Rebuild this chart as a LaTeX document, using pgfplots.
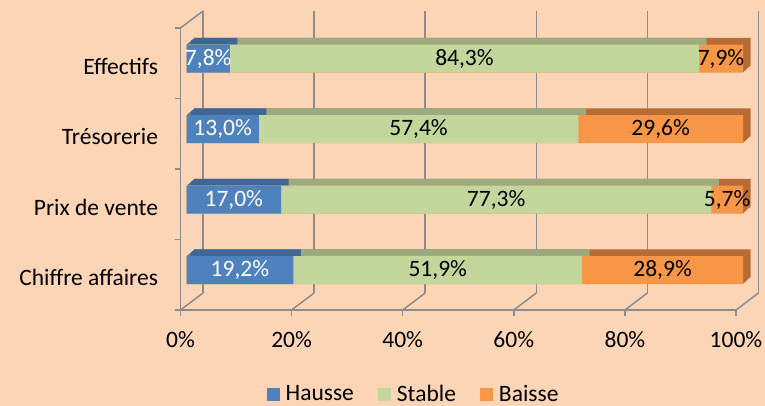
\documentclass[border=0pt]{standalone}
\usepackage{fontspec}
\setmainfont{Carlito}
\usepackage{pgfplots}
\usepackage{pgfplotstable}
\pgfplotsset{compat=1.18}
\definecolor{bg}{HTML}{FBD5B5}
\definecolor{gridgray}{RGB}{140,140,140}
\definecolor{blueC}{HTML}{4F81BD}
\definecolor{greenC}{HTML}{C3D69B}
\definecolor{orangeC}{HTML}{F79646}
\definecolor{blueD}{RGB}{62,102,150}
\definecolor{greenD}{RGB}{156,170,128}
\definecolor{orangeD}{RGB}{184,108,52}
\newcommand\cf{\fontsize{23.5bp}{28bp}\selectfont}
\pgfplotstableread{
idx h s b
0 19.2 51.9 28.9
1 17.0 77.3 5.7
2 13.0 57.4 29.6
3 7.8 84.3 7.9
}\datatable
\begin{document}
\begin{tikzpicture}
\fill[bg] (0,0) rectangle (765bp,406bp);
% back wall
\begin{axis}[at={(203bp,113bp)}, anchor=south west, scale only axis,
  width=555.5bp, height=282bp, xmin=0, xmax=100, ymin=0, ymax=1,
  axis line style={draw=none}, xtick={0,20,...,100}, ytick=\empty,
  xticklabel={\mbox{}}, major tick length=0pt, xmajorgrids,
  grid style={gridgray, line width=1.5bp}]
\end{axis}
% front plane with ticks
\begin{axis}[at={(180.5bp,96bp)}, anchor=south west, scale only axis,
  width=555.5bp, height=282bp, xmin=0, xmax=100, ymin=-0.5, ymax=3.5,
  axis x line=bottom, axis y line=left,
  axis line style={-, draw=gridgray, line width=1.5bp},
  tick style={draw=gridgray, line width=1.5bp},
  tick align=outside, major tick length=6bp,
  xtick={0,20,...,100},
  /pgf/number format/assume math mode=true,
  xticklabel={\pgfmathprintnumber{\tick}\%},
  xticklabel style={font=\cf, yshift=-12bp},
  ytick={-0.5,0.5,...,3.5}, yticklabel={\mbox{}},
  extra y ticks={0,1,2,3},
  extra y tick labels={Chiffre affaires, Prix de vente, Trésorerie, Effectifs},
  extra y tick style={major tick length=0pt, yticklabel style={font=\cf, xshift=-19bp, yshift=-3bp}},
  clip=false]
\pgfplotsinvokeforeach{0,20,40,60,80,100}{
  \draw[gridgray, line width=1.5bp] (axis cs:#1,-0.5) -- ++(22.5bp,17bp);
}
\draw[gridgray, line width=1.5bp] (axis cs:0,3.5) -- ++(22.5bp,17bp);
\end{axis}
% bars
\begin{axis}[at={(186.5bp,100.5bp)}, anchor=south west, scale only axis,
  width=556.5bp, height=282bp, xmin=0, xmax=100, ymin=-0.5, ymax=3.5,
  hide axis, clip=false,
  /pgf/number format/assume math mode=true,
  legend style={at={(0.408,-0.314)}, anchor=center, draw=none, fill=none,
    legend columns=3, font=\cf,
    /tikz/every odd column/.append style={column sep=4bp},
    /tikz/every even column/.append style={column sep=22bp}},
  reverse legend,
  legend image code/.code={\fill[#1] (0bp,-6.5bp) rectangle (13bp,6.5bp);}]
\pgfplotsinvokeforeach{1,...,8}{
  \addplot[xbar, bar shift=0pt, bar width=28bp, fill=orangeD, draw=none,
    xshift=#1*0.94bp, yshift=#1*0.85bp, forget plot]
    table[x expr=\thisrow{h}+\thisrow{s}+\thisrow{b}, y=idx]{\datatable};
  \addplot[xbar, bar shift=0pt, bar width=28bp, fill=greenD, draw=none,
    xshift=#1*0.94bp, yshift=#1*0.85bp, forget plot]
    table[x expr=\thisrow{h}+\thisrow{s}, y=idx]{\datatable};
  \addplot[xbar, bar shift=0pt, bar width=28bp, fill=blueD, draw=none,
    xshift=#1*0.94bp, yshift=#1*0.85bp, forget plot]
    table[x=h, y=idx]{\datatable};
}
\addplot[xbar, bar shift=0pt, bar width=28bp, fill=orangeC, draw=none]
  table[x expr=\thisrow{h}+\thisrow{s}+\thisrow{b}, y=idx]{\datatable};
\addlegendentry{Baisse}
\addplot[xbar, bar shift=0pt, bar width=28bp, fill=greenC, draw=none]
  table[x expr=\thisrow{h}+\thisrow{s}, y=idx]{\datatable};
\addlegendentry{Stable}
\addplot[xbar, bar shift=0pt, bar width=28bp, fill=blueC, draw=none]
  table[x=h, y=idx]{\datatable};
\addlegendentry{Hausse}
% labels
\addplot[draw=none, mark=none, forget plot, point meta=explicit,
  nodes near coords={\pgfmathprintnumber[fixed,fixed zerofill,precision=1,use comma]{\pgfplotspointmeta}\%},
  every node near coord/.append style={anchor=center, font=\cf, text=white}]
  table[x expr=\thisrow{h}/2, y=idx, meta=h]{\datatable};
\addplot[draw=none, mark=none, forget plot, point meta=explicit,
  nodes near coords={\pgfmathprintnumber[fixed,fixed zerofill,precision=1,use comma]{\pgfplotspointmeta}\%},
  every node near coord/.append style={anchor=center, font=\cf, text=black}]
  table[x expr=\thisrow{h}+\thisrow{s}/2, y=idx, meta=s]{\datatable};
\addplot[draw=none, mark=none, forget plot, point meta=explicit,
  nodes near coords={\pgfmathprintnumber[fixed,fixed zerofill,precision=1,use comma]{\pgfplotspointmeta}\%},
  every node near coord/.append style={anchor=center, font=\cf, text=black}]
  table[x expr=\thisrow{h}+\thisrow{s}+\thisrow{b}/2, y=idx, meta=b]{\datatable};
\end{axis}
\pgfresetboundingbox
\useasboundingbox (0,0) rectangle (765bp,406bp);
\end{tikzpicture}
\end{document}
